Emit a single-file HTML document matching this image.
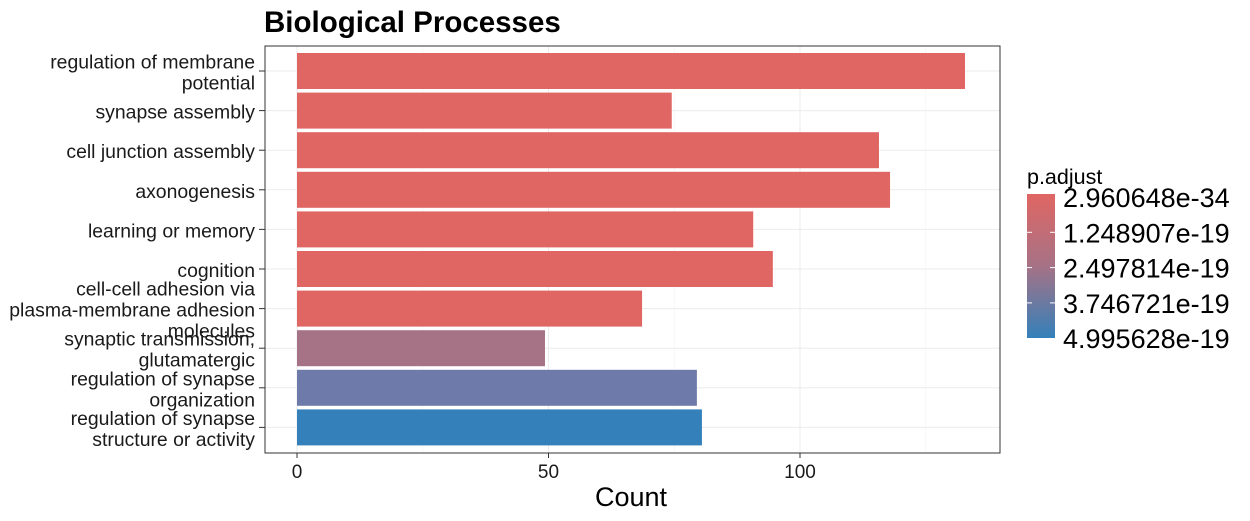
<!DOCTYPE html>
<html><head><meta charset="utf-8"><style>
body{margin:0;background:#fff;font-family:"Liberation Sans",Arial,sans-serif;}
svg{display:block}
</style></head><body>
<svg id="c" width="1250" height="521">
<defs><linearGradient id="g" x1="0" y1="0" x2="0" y2="1">
<stop offset="0" stop-color="#E06663"/><stop offset="0.5" stop-color="#A67286"/><stop offset="1" stop-color="#3480BA"/></linearGradient></defs>
</svg>
<script>
const categories=[["regulation of membrane","potential"],["synapse assembly"],["cell junction assembly"],["axonogenesis"],["learning or memory"],["cognition"],["cell-cell adhesion via","plasma-membrane adhesion","molecules"],["synaptic transmission,","glutamatergic"],["regulation of synapse","organization"],["regulation of synapse","structure or activity"]];
const counts=[132.8,74.5,115.7,117.9,90.7,94.6,68.6,49.3,79.5,80.5];
const colors=["#E06663","#E06663","#E06663","#E06663","#E06663","#E06663","#E06663","#A67286","#6E7BAA","#3480BA"];
const xTicks=[0,50,100];
const legendLabels=["2.960648e-34","1.248907e-19","2.497814e-19","3.746721e-19","4.995628e-19"];
const NS="http://www.w3.org/2000/svg",svg=document.getElementById('c');
const L=265,R=1000,T=46,B=453;
const x=v=>297+v*5.03;
const y=i=>71+i*39.6;
function mk(t,a,p){const e=document.createElementNS(NS,t);for(const k in a)e.setAttribute(k,a[k]);(p||svg).appendChild(e);return e;}
const grid=mk('g',{});


[25,75,125].forEach(v=>mk('line',{x1:x(v),x2:x(v),y1:T,y2:B,stroke:'#f2f2f2','stroke-width':0.6},grid));
xTicks.forEach(v=>mk('line',{x1:x(v),x2:x(v),y1:T,y2:B,stroke:'#ebebeb','stroke-width':1},grid));
categories.forEach((c,i)=>mk('line',{x1:L,x2:R,y1:y(i),y2:y(i),stroke:'#ebebeb','stroke-width':1},grid));
counts.forEach((v,i)=>{const r=mk('rect',{x:x(0),y:y(i)-18,width:x(v)-x(0),height:36,fill:colors[i]});

});
const fr=mk('rect',{x:L,y:T,width:R-L,height:B-T,fill:'none',stroke:'#333','stroke-width':1});


categories.forEach((c,i)=>{mk('line',{x1:259,x2:L,y1:y(i),y2:y(i),stroke:'#333'});
const n=c.length,t=mk('text',{x:255,'text-anchor':'end','font-size':19.4,fill:'#1a1a1a'});


c.forEach((s,k)=>{const ts=mk('tspan',{x:255,y:y(i)+8+(k-(n-1)/2)*21},t);ts.textContent=s;});});
xTicks.forEach(v=>{mk('line',{x1:x(v),x2:x(v),y1:B,y2:B+5,stroke:'#333'});
const t=mk('text',{x:x(v),y:B+25,'text-anchor':'middle','font-size':19,fill:'#1a1a1a'});t.textContent=v;

});
let t=mk('text',{x:631,y:506,'text-anchor':'middle','font-size':27,fill:'#000'});t.textContent='Count';


t=mk('text',{x:264,y:32,'font-size':29.5,'font-weight':'bold',fill:'#000'});t.textContent='Biological Processes';


t=mk('text',{x:1027,y:184,'font-size':21.5,fill:'#000'});t.textContent='p.adjust';


const gb=mk('rect',{x:1027,y:194,width:28,height:144,fill:'url(#g)'});


legendLabels.forEach((s,k)=>{const yy=197+k*35.3;
if(k>0&&k<4){mk('line',{x1:1027,x2:1032,y1:yy,y2:yy,stroke:'#fff'});mk('line',{x1:1050,x2:1055,y1:yy,y2:yy,stroke:'#fff'});}
const tt=mk('text',{x:1063,y:yy+10,'font-size':27,fill:'#000'});tt.textContent=s;

});
</script>
</body></html>
